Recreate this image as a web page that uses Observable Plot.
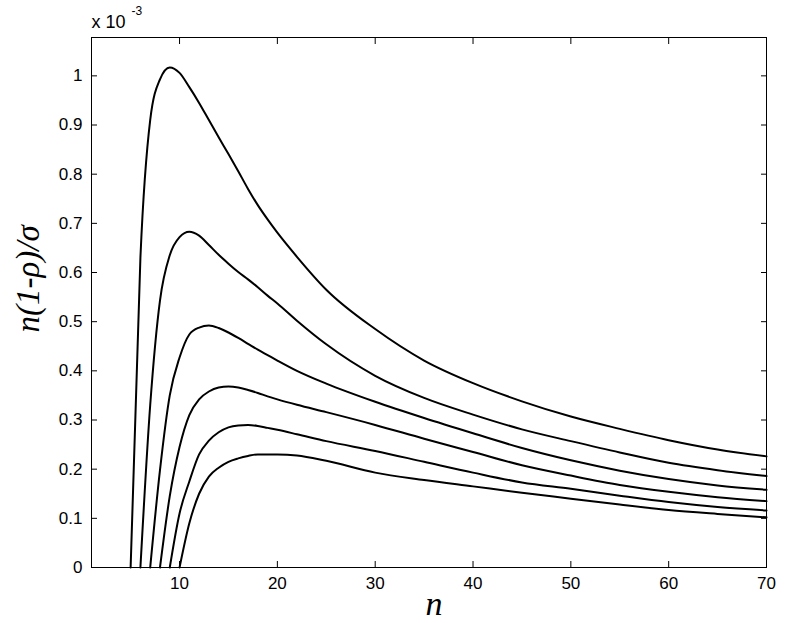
<!DOCTYPE html>
<html>
<head>
<meta charset="utf-8">
<script src="https://cdn.jsdelivr.net/npm/d3@7"></script>
<script src="https://cdn.jsdelivr.net/npm/@observablehq/plot@0.6"></script>
<style>
  html, body { margin: 0; padding: 0; background: #fff; }
  #chart svg { display: block; }
</style>
</head>
<body>
<div id="chart"></div>
<script>
// Tick values
const xTicks = [10, 20, 30, 40, 50, 60, 70];
const yTicks = [0, 0.1, 0.2, 0.3, 0.4, 0.5, 0.6, 0.7, 0.8, 0.9, 1];

// Curves (values in units of 1e-3)
const n1 = [5,6,7,8,9,10,11,12,13,14,15,16,17,18,19,20,22,25,30,35,40,45,50,55,60,65,70];
const v1 = [0,0.63,0.91,0.993,1.017,1.006,0.977,0.945,0.91,0.875,0.841,0.806,0.77,0.737,0.708,0.681,0.632,0.565,0.485,0.421,0.375,0.338,0.307,0.282,0.259,0.240,0.226];

const n2 = [6,7,8,9,10,11,12,13,14,15,16,17,18,19,20,22,25,30,35,40,45,50,55,60,65,70];
const v2 = [0,0.33,0.543,0.635,0.672,0.683,0.675,0.656,0.636,0.618,0.601,0.586,0.57,0.553,0.537,0.502,0.454,0.39,0.345,0.311,0.281,0.257,0.234,0.213,0.198,0.186];

const n3 = [7,8,9,10,11,12,13,14,15,16,17,18,19,20,22,25,30,35,40,45,50,55,60,65,70];
const v3 = [0,0.198,0.35,0.427,0.474,0.488,0.492,0.487,0.478,0.467,0.455,0.443,0.432,0.421,0.40,0.374,0.337,0.304,0.273,0.243,0.218,0.197,0.18,0.167,0.158];

const n4 = [8,9,10,11,12,13,14,15,16,17,18,19,20,22,25,30,35,40,45,50,55,60,65,70];
const v4 = [0,0.145,0.245,0.31,0.342,0.358,0.366,0.368,0.366,0.361,0.355,0.348,0.342,0.331,0.316,0.29,0.262,0.235,0.208,0.187,0.168,0.154,0.143,0.135];

const n5 = [9,10,11,12,13,14,15,16,17,18,19,20,22,25,30,35,40,45,50,55,60,65,70];
const v5 = [0,0.11,0.175,0.23,0.258,0.275,0.285,0.289,0.29,0.288,0.284,0.28,0.271,0.257,0.237,0.215,0.193,0.173,0.16,0.146,0.133,0.123,0.116];

const n6 = [10,11,12,13,14,15,16,17,18,19,20,22,25,30,35,40,45,50,55,60,65,70];
const v6 = [0,0.09,0.15,0.185,0.203,0.215,0.222,0.227,0.23,0.23,0.23,0.228,0.217,0.193,0.178,0.165,0.152,0.14,0.128,0.117,0.109,0.102];

const xLabel = "n";
const yLabel = "n(1-ρ)/σ";
const expBase = "x 10";
const expPow = "-3";

const series = [[n1, v1], [n2, v2], [n3, v3], [n4, v4], [n5, v5], [n6, v6]];
const data = series.flatMap(([ns, vs], k) => ns.map((n, i) => ({curve: k, n, v: vs[i]})));

const fmt = d => String(+d.toFixed(1));

const chart = Plot.plot({
  width: 789,
  height: 623,
  marginLeft: 91,
  marginRight: 23,
  marginTop: 37,
  marginBottom: 56,
  style: {fontFamily: "'Liberation Sans', Arial, sans-serif", fontSize: "17px", color: "#000", background: "#fff", overflow: "visible"},
  x: {domain: [1, 70]},
  y: {domain: [0, 1.078]},
  marks: [
    Plot.line(data, {x: "n", y: "v", z: "curve", stroke: "#000", strokeWidth: 2, curve: "monotone-x"}),
    Plot.frame({stroke: "#000", strokeWidth: 1}),
    Plot.axisX({ticks: xTicks, tickSize: -6, tickPadding: 15, tickFormat: fmt, label: null, stroke: "#000"}),
    Plot.axisX({anchor: "top", ticks: xTicks, tickSize: -6, tickFormat: () => "", label: null}),
    Plot.axisY({ticks: yTicks, tickSize: -6, tickPadding: 15, tickFormat: fmt, label: null}),
    Plot.axisY({anchor: "right", ticks: yTicks, tickSize: -6, tickFormat: () => "", label: null}),
    Plot.text([xLabel], {frameAnchor: "bottom", dx: 5, dy: 47, lineAnchor: "bottom", fontFamily: "'Liberation Serif', 'Times New Roman', serif", fontStyle: "italic", fontSize: 34, fill: "#000"}),
    Plot.text([yLabel], {frameAnchor: "left", dx: -63, dy: 30, rotate: -90, lineAnchor: "middle", fontFamily: "'Liberation Serif', 'Times New Roman', serif", fontStyle: "italic", fontSize: 33, fill: "#000"}),
    Plot.text([expBase], {frameAnchor: "top-left", dx: 0, dy: -10, textAnchor: "start", lineAnchor: "bottom", fontSize: 18, fill: "#000"}),
    Plot.text([expPow], {frameAnchor: "top-left", dx: 40, dy: -23, textAnchor: "start", lineAnchor: "bottom", fontSize: 12, fill: "#000"})
  ]
});

document.getElementById("chart").appendChild(chart);
</script>
</body>
</html>
